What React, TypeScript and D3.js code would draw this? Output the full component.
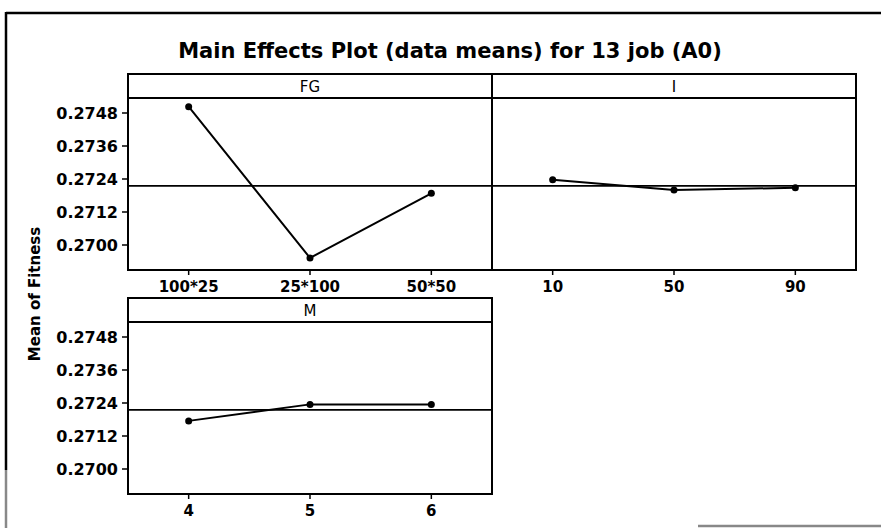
import React from "react";
import * as d3 from "d3";

const title = "Main Effects Plot (data means) for 13 job (A0)";
const yAxisLabel = "Mean of Fitness";

const fgLevels = ["100*25", "25*100", "50*50"];
const fgMeans = [0.27503, 0.26953, 0.27188];

const iLevels = ["10", "50", "90"];
const iMeans = [0.27237, 0.272, 0.27208];

const mLevels = ["4", "5", "6"];
const mMeans = [0.27175, 0.27235, 0.27235];

const yTicks = [0.27, 0.2712, 0.2724, 0.2736, 0.2748];
const grandMean = 0.27215;

const panels = [
  { name: "FG", levels: fgLevels, means: fgMeans, col: 0, row: 0 },
  { name: "I", levels: iLevels, means: iMeans, col: 1, row: 0 },
  { name: "M", levels: mLevels, means: mMeans, col: 0, row: 1 },
];

const W = 881;
const H = 528;
const colX = [128, 492];
const panelW = 364;
const rowTop = [74, 298];
const stripH = 24;
const plotH = 172;
const FONT = "'DejaVu Sans', sans-serif";

function Panel({ p }: { p: (typeof panels)[number] }) {
  const x0 = colX[p.col];
  const top = rowTop[p.row];
  const plotTop = top + stripH;
  const plotBottom = plotTop + plotH;
  const x = d3.scalePoint<string>().domain(p.levels).range([x0, x0 + panelW]).padding(0.5);
  const y = d3.scaleLinear().domain([0.27, 0.2748]).range([plotTop + 147, plotTop + 15]);
  const line = d3
    .line<number>()
    .x((_, i) => x(p.levels[i]) as number)
    .y((d) => y(d));
  const showY = p.col === 0;
  return (
    <g>
      <rect x={x0} y={top} width={panelW} height={stripH + plotH} fill="none" stroke="#000" strokeWidth={2} />
      <line x1={x0} x2={x0 + panelW} y1={plotTop} y2={plotTop} stroke="#000" strokeWidth={2} />
      <text x={x0 + panelW / 2} y={top + 18} textAnchor="middle" fontFamily={FONT} fontSize={15} fill="#000">
        {p.name}
      </text>
      <line x1={x0} x2={x0 + panelW} y1={y(grandMean)} y2={y(grandMean)} stroke="#000" strokeWidth={1.6} />
      <path d={line(p.means) || ""} fill="none" stroke="#000" strokeWidth={2} />
      {p.means.map((m, i) => (
        <circle key={i} cx={x(p.levels[i])} cy={y(m)} r={3.5} fill="#000" />
      ))}
      {p.levels.map((l) => (
        <g key={l}>
          <line x1={x(l)} x2={x(l)} y1={plotBottom} y2={plotBottom + 5} stroke="#000" strokeWidth={1.5} />
          <text x={x(l)} y={plotBottom + 22} textAnchor="middle" fontFamily={FONT} fontWeight="bold" fontSize={15} fill="#000">
            {l}
          </text>
        </g>
      ))}
      {showY &&
        yTicks.map((t) => (
          <g key={t}>
            <line x1={x0 - 6} x2={x0} y1={y(t)} y2={y(t)} stroke="#000" strokeWidth={1.5} />
            <text
              x={x0 - 10}
              y={y(t)}
              dy="0.36em"
              textAnchor="end"
              fontFamily={FONT}
              fontWeight="bold"
              fontSize={16}
              fill="#000"
            >
              {d3.format(".4f")(t)}
            </text>
          </g>
        ))}
    </g>
  );
}

export default function App() {
  return (
    <div style={{ position: "absolute", left: 0, top: 0 }}>
      <svg width={W} height={H} style={{ display: "block", background: "#fff" }}>
        <line x1={6} x2={W} y1={13} y2={13} stroke="#000" strokeWidth={2.5} />
        <line x1={6} x2={6} y1={12} y2={470} stroke="#000" strokeWidth={2.5} />
        <line x1={6} x2={6} y1={470} y2={H} stroke="#888" strokeWidth={2.5} />
        <line x1={698} x2={W} y1={526} y2={526} stroke="#888" strokeWidth={2.5} />
        <text x={450} y={58} textAnchor="middle" fontFamily={FONT} fontWeight="bold" fontSize={21} fill="#000">
          {title}
        </text>
        <text
          transform="translate(40,294) rotate(-90)"
          textAnchor="middle"
          fontFamily={FONT}
          fontWeight="bold"
          fontSize={15}
          fill="#000"
        >
          {yAxisLabel}
        </text>
        {panels.map((p) => (
          <Panel key={p.name} p={p} />
        ))}
      </svg>
    </div>
  );
}
